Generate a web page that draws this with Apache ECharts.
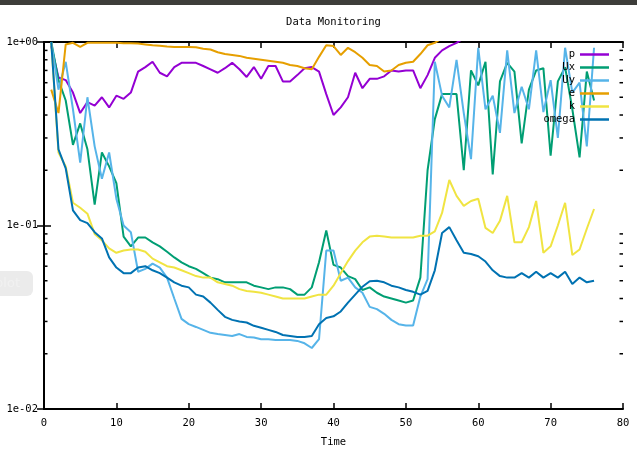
<!DOCTYPE html>
<html>
<head>
<meta charset="utf-8">
<script src="https://cdn.jsdelivr.net/npm/echarts@6/dist/echarts.min.js"></script>
<style>
html,body{margin:0;padding:0;background:#fff;}
#chart{width:637px;height:455px;}
</style>
</head>
<body>
<div id="chart"></div>
<script>
// ---- data ----
const time = [1,2,3,4,5,6,7,8,9,10,11,12,13,14,15,16,17,18,19,20,21,22,23,24,25,26,27,28,29,30,31,32,33,34,35,36,37,38,39,40,41,42,43,44,45,46,47,48,49,50,51,52,53,54,55,56,57,58,59,60,61,62,63,64,65,66,67,68,69,70,71,72,73,74,75,76];

const seriesNames = ['p', 'Ux', 'Uy', 'e', 'k', 'omega'];

const pVals = [
  0.95, 0.64, 0.62, 0.53, 0.41, 0.47, 0.45, 0.50, 0.44, 0.51,
  0.49, 0.53, 0.69, 0.73, 0.78, 0.68, 0.65, 0.73, 0.77, 0.77,
  0.77, 0.74, 0.71, 0.68, 0.72, 0.77, 0.71, 0.645, 0.73, 0.63,
  0.74, 0.74, 0.61, 0.61, 0.66, 0.72, 0.73, 0.69, 0.52, 0.40,
  0.44, 0.50, 0.68, 0.56, 0.63, 0.63, 0.65, 0.70, 0.69, 0.70,
  0.70, 0.56, 0.66, 0.82, 0.90, 0.95, 0.99, 1.05, 1.12, 1.18,
  1.20, 1.22, 1.25, 1.25, 1.27, 1.30, 1.30, 1.32, 1.33, 1.35,
  1.35, 1.37, 1.38, 1.40, 1.40, 1.42
];

const uxVals = [
  1.0, 0.62, 0.48, 0.275, 0.36, 0.26, 0.13, 0.25, 0.21, 0.17,
  0.087, 0.077, 0.086, 0.086, 0.081, 0.077, 0.072, 0.067, 0.063, 0.060,
  0.058, 0.055, 0.052, 0.051, 0.049, 0.049, 0.049, 0.049, 0.047, 0.046,
  0.045, 0.046, 0.046, 0.045, 0.042, 0.042, 0.046, 0.063, 0.094, 0.061,
  0.059, 0.053, 0.051, 0.0445, 0.046, 0.043, 0.041, 0.040, 0.039, 0.038,
  0.039, 0.052, 0.20, 0.38, 0.52, 0.52, 0.52, 0.20, 0.70, 0.58,
  0.78, 0.19, 0.61, 0.77, 0.69, 0.28, 0.55, 0.70, 0.72, 0.24,
  0.61, 0.73, 0.43, 0.235, 0.69, 0.48
];

const uyVals = [
  1.0, 0.55, 0.78, 0.43, 0.22, 0.50, 0.27, 0.18, 0.25, 0.14,
  0.10, 0.092, 0.056, 0.058, 0.062, 0.059, 0.052, 0.040, 0.031, 0.029,
  0.028, 0.027, 0.026, 0.0256, 0.0253, 0.025, 0.0256, 0.0247, 0.0245, 0.024,
  0.024, 0.0238, 0.0238, 0.0238, 0.0235, 0.0228, 0.0215, 0.024, 0.073, 0.073,
  0.050, 0.052, 0.046, 0.043, 0.036, 0.035, 0.033, 0.0306, 0.029, 0.0285,
  0.0285, 0.041, 0.051, 0.78, 0.51, 0.44, 0.80, 0.41, 0.23, 0.93,
  0.43, 0.51, 0.32, 0.90, 0.41, 0.57, 0.43, 0.90, 0.415, 0.62,
  0.30, 0.93, 0.53, 0.60, 0.27, 0.93
];

const eVals = [
  0.55, 0.41, 0.97, 0.99, 0.94, 0.99, 0.99, 0.99, 0.99, 0.99,
  0.985, 0.985, 0.98, 0.97, 0.96, 0.955, 0.945, 0.94, 0.94, 0.94,
  0.935, 0.92, 0.91, 0.88, 0.86, 0.85, 0.84, 0.82, 0.81, 0.80,
  0.79, 0.78, 0.77, 0.75, 0.74, 0.72, 0.71, 0.83, 0.96, 0.95,
  0.85, 0.93, 0.88, 0.82, 0.75, 0.74, 0.69, 0.70, 0.75, 0.77,
  0.78, 0.86, 0.96, 0.99, 1.05, 1.10, 1.15, 1.20, 1.22, 1.25,
  1.28, 1.30, 1.30, 1.32, 1.35, 1.36, 1.38, 1.40, 1.40, 1.42,
  1.44, 1.45, 1.46, 1.48, 1.50, 1.50
];

const kVals = [
  1.0, 0.25, 0.21, 0.133, 0.125, 0.116, 0.090, 0.083, 0.075, 0.071,
  0.073, 0.074, 0.074, 0.072, 0.066, 0.063, 0.060, 0.059, 0.057, 0.055,
  0.053, 0.052, 0.052, 0.049, 0.048, 0.047, 0.045, 0.044, 0.0435, 0.043,
  0.042, 0.041, 0.040, 0.040, 0.040, 0.040, 0.041, 0.042, 0.042, 0.047,
  0.055, 0.064, 0.073, 0.081, 0.087, 0.088, 0.087, 0.086, 0.086, 0.086,
  0.086, 0.088, 0.088, 0.093, 0.117, 0.177, 0.145, 0.128, 0.136, 0.140,
  0.097, 0.091, 0.106, 0.145, 0.081, 0.081, 0.098, 0.136, 0.071, 0.077,
  0.100, 0.133, 0.069, 0.074, 0.096, 0.123
];

const omegaVals = [
  1.0, 0.26, 0.205, 0.121, 0.107, 0.103, 0.092, 0.085, 0.067, 0.059,
  0.055, 0.055, 0.059, 0.060, 0.057, 0.055, 0.052, 0.049, 0.047, 0.046,
  0.042, 0.041, 0.038, 0.0347, 0.0318, 0.0306, 0.030, 0.0296, 0.0284, 0.0277,
  0.027, 0.0263, 0.0253, 0.025, 0.0247, 0.0247, 0.025, 0.029, 0.0313, 0.032,
  0.034, 0.038, 0.042, 0.0464, 0.0497, 0.050, 0.049, 0.047, 0.046, 0.0445,
  0.0435, 0.042, 0.044, 0.057, 0.091, 0.098, 0.083, 0.071, 0.070, 0.068,
  0.0636, 0.057, 0.053, 0.052, 0.052, 0.055, 0.052, 0.056, 0.052, 0.055,
  0.052, 0.056, 0.048, 0.052, 0.049, 0.050
];

const xTicks = { min: 0, max: 80, interval: 10 };
const yRange = { min: 0.01, max: 1 };

// ---- chart ----
const FONT = 'DejaVu Sans Mono';
const colors = ['#9400d3', '#009e73', '#56b4e9', '#e69f00', '#f0e442', '#0072b2'];
const allVals = [pVals, uxVals, uyVals, eVals, kVals, omegaVals];

function pair(vals) { return time.map((t, i) => [t, vals[i]]); }

function yFmt(v) {
  const e = Math.round(Math.log10(v));
  const a = Math.abs(e);
  return '1e' + (e < 0 ? '-' : '+') + (a < 10 ? '0' : '') + a;
}

const chart = echarts.init(document.getElementById('chart'), null, { renderer: 'canvas' });

const axisLineStyle = { show: true, lineStyle: { color: '#000', width: 2 } };
const labelStyle = { fontFamily: FONT, fontSize: 10.5, color: '#000' };

const option = {
  animation: false,
  backgroundColor: '#ffffff',
  color: colors,
  grid: { left: 44, right: 14, top: 42, bottom: 46, containLabel: false },
  legend: {
    orient: 'vertical',
    right: 28,
    top: 48,
    padding: 0,
    align: 'right',
    icon: 'rect',
    itemWidth: 29,
    itemHeight: 2.5,
    itemGap: 0,
    selectedMode: false,
    textStyle: { fontFamily: FONT, fontSize: 10.5, color: '#000', lineHeight: 13 },
    data: seriesNames
  },
  xAxis: [
    {
      type: 'value', position: 'bottom', min: xTicks.min, max: xTicks.max, interval: xTicks.interval,
      axisLine: axisLineStyle,
      axisTick: { show: true, inside: true, length: 6, lineStyle: { color: '#000', width: 1.5 } },
      axisLabel: Object.assign({ margin: 9 }, labelStyle),
      splitLine: { show: false },
      name: 'Time', nameLocation: 'middle', nameGap: 28,
      nameTextStyle: { fontFamily: FONT, fontSize: 10.5, color: '#000' }
    },
    {
      type: 'value', position: 'top', min: xTicks.min, max: xTicks.max, interval: xTicks.interval,
      axisLine: axisLineStyle,
      axisTick: { show: true, inside: true, length: 6, lineStyle: { color: '#000', width: 1.5 } },
      axisLabel: { show: false },
      splitLine: { show: false }
    }
  ],
  yAxis: [
    {
      type: 'log', logBase: 10, position: 'left', min: yRange.min, max: yRange.max,
      axisLine: axisLineStyle,
      axisTick: { show: true, inside: true, length: 7, lineStyle: { color: '#000', width: 1.5 } },
      axisLabel: Object.assign({ margin: 6, formatter: yFmt }, labelStyle),
      splitLine: { show: false }
    },
    {
      type: 'log', logBase: 10, position: 'right', min: yRange.min, max: yRange.max,
      axisLine: axisLineStyle,
      axisTick: { show: true, inside: true, length: 7, lineStyle: { color: '#000', width: 1.5 } },
      axisLabel: { show: false },
      splitLine: { show: false }
    }
  ],
  series: seriesNames.map((name, i) => ({
    name: name,
    type: 'line',
    xAxisIndex: 0,
    yAxisIndex: 0,
    data: pair(allVals[i]),
    showSymbol: false,
    symbol: 'none',
    clip: true,
    lineStyle: { width: 2, color: colors[i] },
    itemStyle: { color: colors[i] },
    emphasis: { disabled: true }
  }))
};

chart.setOption(option);

// minor ticks on the log axis (2..9 per decade), left and right borders
const gx0 = chart.convertToPixel({ xAxisIndex: 0 }, xTicks.min);
const gx1 = chart.convertToPixel({ xAxisIndex: 0 }, xTicks.max);
const graphics = [];
[0.01, 0.1].forEach(dec => {
  for (let m = 2; m <= 9; m++) {
    const y = chart.convertToPixel({ yAxisIndex: 0 }, m * dec);
    graphics.push({ type: 'line', silent: true, shape: { x1: gx0, y1: y, x2: gx0 + 3.5, y2: y }, style: { stroke: '#000', lineWidth: 1.5 } });
    graphics.push({ type: 'line', silent: true, shape: { x1: gx1 - 3.5, y1: y, x2: gx1, y2: y }, style: { stroke: '#000', lineWidth: 1.5 } });
  }
});
// title
graphics.push({ type: 'text', silent: true, x: (gx0 + gx1) / 2, y: 22, style: { text: 'Data Monitoring', fontFamily: FONT, fontSize: 10.5, fill: '#000', textAlign: 'center', textVerticalAlign: 'middle' } });
// window chrome seen in the screenshot
graphics.push({ type: 'rect', silent: true, shape: { x: 0, y: 0, width: 637, height: 5 }, style: { fill: '#3d3d3a' } });
graphics.push({ type: 'rect', silent: true, shape: { x: -10, y: 271, width: 43, height: 25, r: 6 }, style: { fill: '#ebebeb' } });
graphics.push({ type: 'text', silent: true, x: 20, y: 284, style: { text: 'plot', fontFamily: 'DejaVu Sans', fontSize: 13, fill: '#f1f1f1', textAlign: 'right', textVerticalAlign: 'middle' } });

chart.setOption({ graphic: graphics });
</script>
</body>
</html>
